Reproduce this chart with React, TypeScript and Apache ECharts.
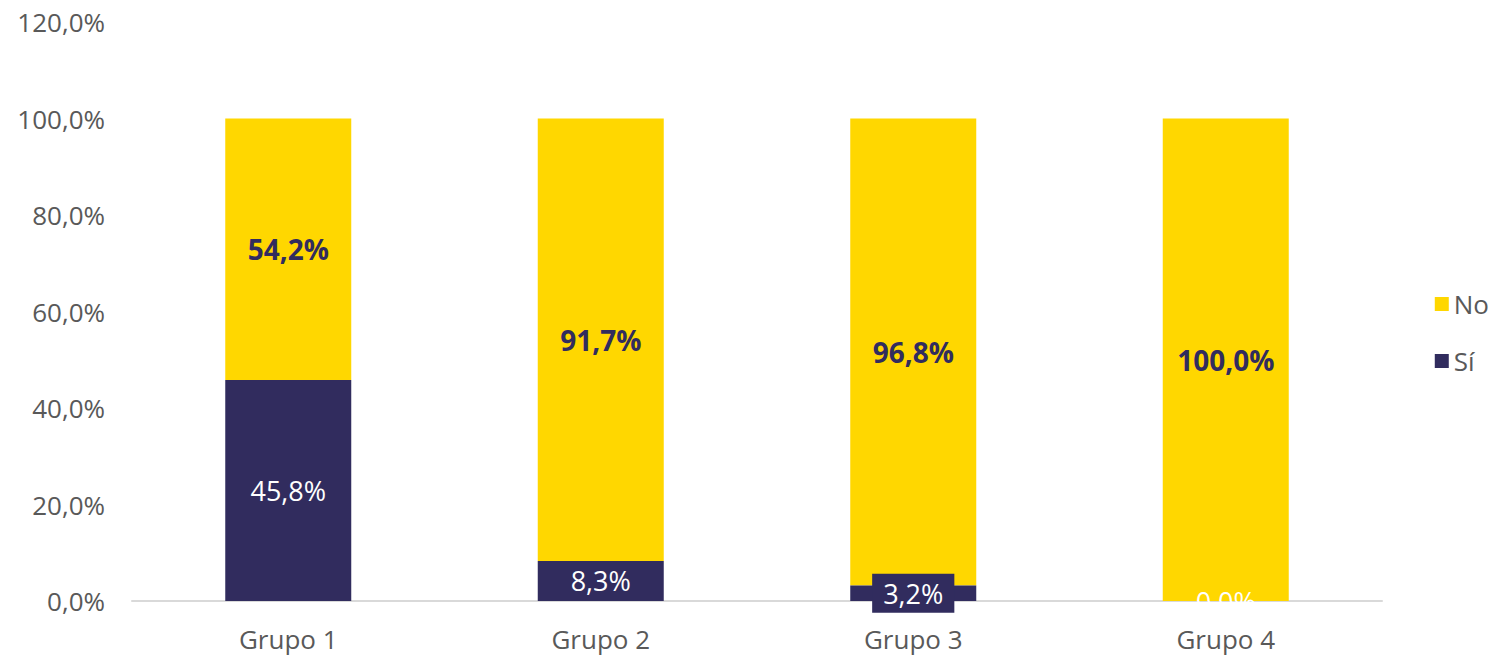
import React, { useEffect, useRef } from "react";
import * as echarts from "echarts";

const categories = ["Grupo 1", "Grupo 2", "Grupo 3", "Grupo 4"];
const siValues = [45.8, 8.3, 3.2, 0.0];
const noValues = [54.2, 91.7, 96.8, 100.0];
const yTicks = [0, 20, 40, 60, 80, 100, 120];

const NAVY = "#312C5E";
const GOLD = "#FFD700";
const FONT = "'Open Sans', 'Liberation Sans', sans-serif";

const fmt = (v: number) => v.toFixed(1).replace(".", ",") + "%";

export default function App() {
  const ref = useRef<HTMLDivElement>(null);
  useEffect(() => {
    if (!ref.current) return;
    const chart = echarts.init(ref.current, undefined, { renderer: "svg" });
    chart.setOption({
      animation: false,
      textStyle: { fontFamily: FONT },
      grid: { left: 132, right: 114, top: 22, bottom: 56, containLabel: false },
      legend: {
        data: ["No", "Sí"],
        orient: "vertical",
        right: 2,
        top: 286,
        itemWidth: 14,
        itemHeight: 14,
        itemGap: 31,
        icon: "rect",
        textStyle: { color: "#595959", fontSize: 26, fontFamily: FONT },
      },
      xAxis: {
        type: "category",
        data: categories,
        axisLine: { lineStyle: { color: "#d9d9d9", width: 2 } },
        axisTick: { show: false },
        axisLabel: { color: "#595959", fontSize: 26, margin: 25, fontFamily: FONT },
      },
      yAxis: {
        type: "value",
        min: yTicks[0],
        max: yTicks[yTicks.length - 1],
        interval: 20,
        splitLine: { show: false },
        axisLine: { show: false },
        axisTick: { show: false },
        axisLabel: {
          color: "#595959",
          fontSize: 26,
          margin: 27,
          fontFamily: FONT,
          formatter: (v: number) => fmt(v),
        },
      },
      series: [
        {
          name: "Sí",
          type: "bar",
          stack: "total",
          barWidth: 126,
          itemStyle: { color: NAVY },
          data: siValues.map((v, i) =>
            i === 2
              ? {
                  value: v,
                  label: {
                    backgroundColor: NAVY,
                    padding: [6, 11, 6, 11],
                  },
                }
              : v
          ),
          label: {
            show: true,
            position: "inside",
            color: "#ffffff",
            fontSize: 27,
            fontFamily: FONT,
            formatter: (p: any) => fmt(p.value),
          },
          z: 3,
        },
        {
          name: "No",
          type: "bar",
          stack: "total",
          barWidth: 126,
          itemStyle: { color: GOLD },
          data: noValues,
          label: {
            show: true,
            position: "inside",
            color: NAVY,
            fontSize: 28,
            fontWeight: "bold",
            fontFamily: FONT,
            formatter: (p: any) => fmt(p.value),
          },
          z: 2,
        },
      ],
    });
    return () => chart.dispose();
  }, []);
  return (
    <div
      ref={ref}
      style={{ position: "absolute", left: 0, top: 0, width: 1496, height: 657, background: "#fff" }}
    />
  );
}
